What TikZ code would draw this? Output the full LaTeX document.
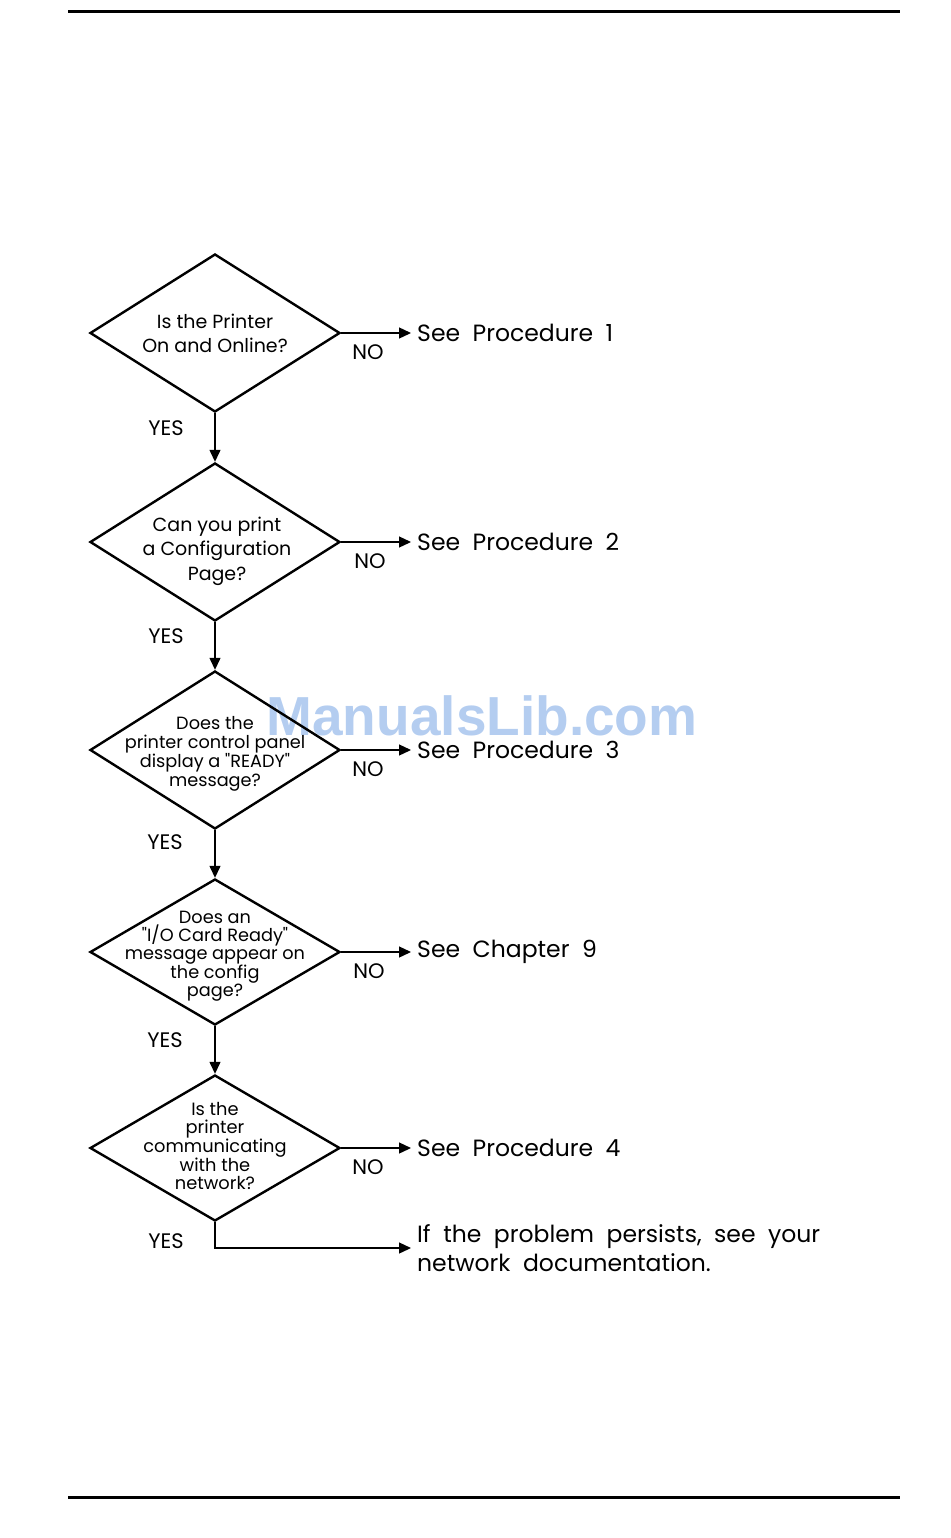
\documentclass[tikz,border=0pt]{standalone}
\usepackage{fontspec}
\setmainfont{Poppins}
\newfontfamily\resfont[WordSpace=2.0]{Poppins}
\newfontfamily\wmfont{Liberation Sans}
\usetikzlibrary{shapes.geometric,arrows.meta}
\definecolor{wm}{RGB}{180,205,240}
\begin{document}
\begin{tikzpicture}[x=1pt,y=-1pt,
  dia/.style={draw,line width=2.4pt,diamond,minimum width=250pt,minimum height=158pt,inner sep=0pt},
  diasm/.style={dia,minimum height=146pt},
  qtext/.style={align=center,inner sep=0pt},
  res/.style={anchor=west,inner xsep=6pt,inner ysep=0pt,font=\resfont\fontsize{23.5}{29}\selectfont},
  lab/.style={font=\fontsize{21}{24}\selectfont,inner sep=0pt},
  conn/.style={line width=1.3pt,-{Triangle[length=12pt,width=11pt]}},
  rulestyle/.style={line width=3pt}]
\useasboundingbox (0,0) rectangle (950,1538);
% watermark
\node[text=wm,font=\wmfont\bfseries\fontsize{55}{60}\selectfont,inner sep=0pt] (wmk) at (482,716) {ManualsLib.com};
% rules
\coordinate (r1a) at (68,12); \coordinate (r1b) at (900,12);
\coordinate (r2a) at (68,1497); \coordinate (r2b) at (900,1497);
\draw[rulestyle] (r1a) -- (r1b);
\draw[rulestyle] (r2a) -- (r2b);
% diamonds
\node[dia] (d1) at (215,333) {};
\node[dia] (d2) at (215,542) {};
\node[dia] (d3) at (215,750) {};
\node[diasm] (d4) at (215,952) {};
\node[diasm] (d5) at (215,1148) {};
% diamond texts
\node[qtext,font=\fontsize{19}{24}\selectfont] (t1) at (215,333) {Is the Printer\\On and Online?};
\node[qtext,font=\fontsize{19}{24.5}\selectfont] (t2) at (217,551) {Can you print\\a Configuration\\Page?};
\node[qtext,font=\fontsize{17.7}{19}\selectfont] (t3) at (215,754) {Does the\\printer control panel\\display a \textquotedbl READY\textquotedbl\\message?};
\node[qtext,font=\fontsize{17.7}{18}\selectfont] (t4) at (215,956) {Does an\\\textquotedbl I/O Card Ready\textquotedbl\\message appear on\\the config\\page?};
\node[qtext,font=\fontsize{17.8}{17.5}\selectfont] (t5) at (215,1146) {Is the\\printer\\communicating\\with the\\network?};
% results
\node[res] (p1) at (411,333) {See Procedure 1};
\node[res] (p2) at (411,542) {See Procedure 2};
\node[res] (p3) at (411,750) {See Procedure 3};
\node[res] (p4) at (411,952) {See Chapter 9};
\node[res] (p5) at (411,1148) {See Procedure 4};
\node[res,align=left] (f) at (411,1248) {If the problem persists, see your\\network documentation.};
% NO labels
\node[lab] (n1) at (368,352) {NO};
\node[lab] (n2) at (370,561) {NO};
\node[lab] (n3) at (368,769) {NO};
\node[lab] (n4) at (369,971) {NO};
\node[lab] (n5) at (368,1167) {NO};
% YES labels
\node[lab] (y1) at (166,428) {YES};
\node[lab] (y2) at (166,636) {YES};
\node[lab] (y3) at (165,842) {YES};
\node[lab] (y4) at (165,1040) {YES};
\node[lab] (y5) at (166,1241) {YES};
% connectors
\draw[conn] (d1.east) -- (p1.west);
\draw[conn] (d2.east) -- (p2.west);
\draw[conn] (d3.east) -- (p3.west);
\draw[conn] (d4.east) -- (p4.west);
\draw[conn] (d5.east) -- (p5.west);
\draw[conn] (d1.south) -- (d2.north);
\draw[conn] (d2.south) -- (d3.north);
\draw[conn] (d3.south) -- (d4.north);
\draw[conn] (d4.south) -- (d5.north);
\draw[conn] (d5.south) |- (f.west);
\end{tikzpicture}
\end{document}
